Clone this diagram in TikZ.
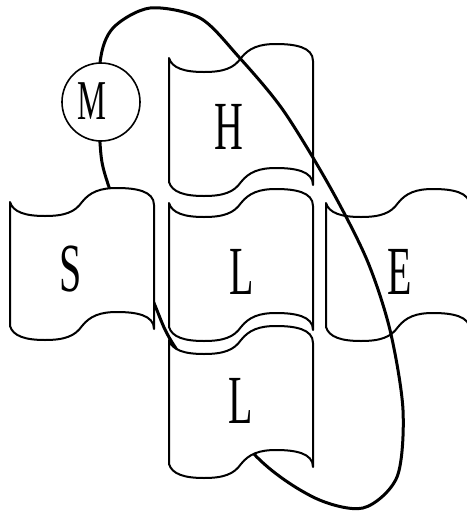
\documentclass[tikz,border=0pt]{standalone}
\usepackage{fontspec}
\newfontfamily\narrowserif[FakeStretch=0.58]{Liberation Serif}

\begin{document}
\begin{tikzpicture}[x=.25mm,y=-.25mm,
 blockline/.style={line width=.5mm,line join=round},
 loopline/.style={line width=.75mm},
 letter/.style={font=\narrowserif\fontsize{49}{49}\selectfont,inner sep=0pt,anchor=base},
 mcircle/.style={draw,circle,fill=white,line width=.4mm,minimum size=19.5mm,inner sep=0pt},
 wavebox/.pic={
  \draw[blockline,fill=white] (0,0) .. controls (3,10) and (15,14) .. (35,14)
   .. controls (55,14) and (65,10) .. (72,0)
   .. controls (80,-10) and (90,-14) .. (107,-14)
   .. controls (126,-14) and (144,-11) .. (144,3) -- (144,127)
   .. controls (144,113) and (126,110) .. (107,110)
   .. controls (90,110) and (80,114) .. (72,124)
   .. controls (65,134) and (55,138) .. (35,138)
   .. controls (15,138) and (3,134) .. (0,124) -- cycle;}]
 \useasboundingbox (0,0) rectangle (467,513);
 \clip (0,0) rectangle (467,513);
 % blocks lying under the loop
 \pic (hbox) at (169,58) {wavebox};
 \pic (ebox) at (326,203) {wavebox};
 \pic (lmbox) at (169,203) {wavebox};
 % the loop
 \draw[loopline] plot[smooth cycle] coordinates {(100,63) (113,28) (150,8) (200,18)
  (238,56) (283,110) (330,187) (367,260) (390,330) (403,410) (397,477) (363,508)
  (313,497) (253,453) (177,350) (154,303) (109,187) (100,143)};
 % blocks lying over the loop
 \pic (sbox) at (10,202) {wavebox};
 \pic (lbbox) at (169,340) {wavebox};
 \node[mcircle] (mc) at (101,102) {};
 \node[letter] (h) at (229,149) {H};
 \node[letter] (s) at (70.5,291) {S};
 \node[letter] (lm) at (242,294) {L};
 \node[letter] (e) at (400,294) {E};
 \node[letter] (lb) at (241,423) {L};
 \node[letter,font=\narrowserif\fontsize{40}{40}\selectfont] (m) at (92,119) {M};
\end{tikzpicture}
\end{document}
